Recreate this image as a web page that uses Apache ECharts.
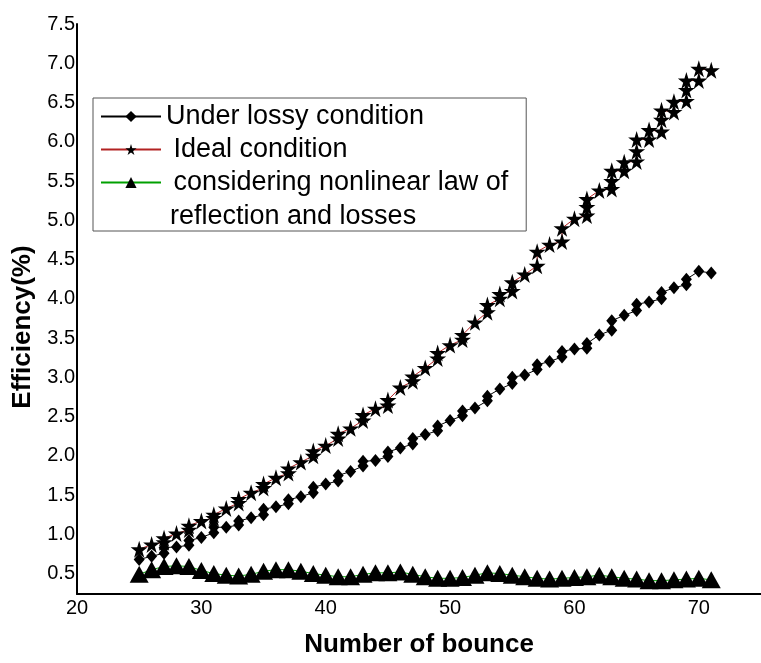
<!DOCTYPE html>
<html>
<head>
<meta charset="utf-8">
<script src="https://cdn.jsdelivr.net/npm/echarts@6/dist/echarts.min.js"></script>
<style>
  html, body { margin: 0; padding: 0; background: #fff; }
  #chart { width: 761px; height: 663px; }
</style>
</head>
<body>
<div id="chart"></div>
<script>
// odd bounces carry two (sometimes three) points
const idealBounce = [25, 26, 27, 27, 28, 29, 29, 30, 31, 31, 32, 33, 33, 34, 35, 35, 36, 37, 37, 38, 39, 39, 40, 41, 41, 42, 43, 43, 44, 45, 45, 46, 47, 47, 48, 49, 49, 50, 51, 51, 52, 53, 53, 54, 54, 55, 55, 56, 57, 57, 58, 59, 59, 60, 61, 61, 61, 62, 63, 63, 63, 64, 64, 65, 65, 65, 66, 66, 67, 67, 67, 68, 68, 69, 69, 69, 70, 70, 71]
const idealEff = [0.81, 0.87, 0.90, 0.95, 1.01, 1.06, 1.11, 1.17, 1.21, 1.25, 1.33, 1.40, 1.45, 1.53, 1.59, 1.64, 1.72, 1.78, 1.84, 1.92, 2.00, 2.06, 2.13, 2.22, 2.28, 2.35, 2.45, 2.52, 2.60, 2.64, 2.71, 2.87, 2.95, 3.01, 3.12, 3.24, 3.31, 3.41, 3.48, 3.54, 3.70, 3.83, 3.92, 4.00, 4.06, 4.10, 4.21, 4.31, 4.42, 4.60, 4.69, 4.73, 4.90, 5.02, 5.06, 5.17, 5.27, 5.38, 5.40, 5.50, 5.63, 5.63, 5.74, 5.75, 5.88, 6.03, 6.03, 6.15, 6.13, 6.28, 6.40, 6.38, 6.51, 6.52, 6.66, 6.78, 6.78, 6.93, 6.91]

const lossyBounce = [25, 26, 27, 27, 28, 29, 29, 30, 31, 31, 32, 33, 33, 34, 35, 35, 36, 37, 37, 38, 39, 39, 40, 41, 41, 42, 43, 43, 44, 45, 45, 46, 47, 47, 48, 49, 49, 50, 51, 51, 52, 53, 53, 54, 55, 55, 56, 57, 57, 58, 59, 59, 60, 61, 61, 62, 63, 63, 64, 65, 65, 66, 67, 67, 68, 69, 69, 70, 71]
const lossyEff = [0.68, 0.72, 0.76, 0.83, 0.84, 0.86, 0.92, 0.96, 1.02, 1.09, 1.09, 1.12, 1.17, 1.21, 1.25, 1.32, 1.35, 1.39, 1.44, 1.48, 1.53, 1.60, 1.64, 1.68, 1.75, 1.80, 1.87, 1.93, 1.94, 1.99, 2.05, 2.10, 2.15, 2.22, 2.27, 2.32, 2.38, 2.45, 2.51, 2.57, 2.61, 2.70, 2.76, 2.85, 2.92, 3.00, 3.03, 3.10, 3.16, 3.20, 3.26, 3.33, 3.36, 3.37, 3.43, 3.54, 3.60, 3.72, 3.79, 3.85, 3.93, 3.96, 4.00, 4.08, 4.14, 4.18, 4.25, 4.35, 4.33]

const nonlinBounce = [25, 26, 27, 28, 29, 30, 31, 32, 33, 34, 35, 36, 37, 38, 39, 40, 41, 42, 43, 44, 45, 46, 47, 48, 49, 50, 51, 52, 53, 54, 55, 56, 57, 58, 59, 60, 61, 62, 63, 64, 65, 66, 67, 68, 69, 70, 71]
const nonlinEff = [0.49, 0.55, 0.59, 0.60, 0.59, 0.54, 0.50, 0.48, 0.47, 0.49, 0.53, 0.55, 0.55, 0.53, 0.50, 0.48, 0.46, 0.46, 0.49, 0.51, 0.51, 0.52, 0.49, 0.46, 0.44, 0.44, 0.45, 0.48, 0.51, 0.50, 0.48, 0.46, 0.44, 0.43, 0.44, 0.45, 0.46, 0.48, 0.46, 0.44, 0.43, 0.41, 0.41, 0.42, 0.43, 0.44, 0.42]

const xTicks = [20, 30, 40, 50, 60, 70]
const yTicks = [0.5, 1.0, 1.5, 2.0, 2.5, 3.0, 3.5, 4.0, 4.5, 5.0, 5.5, 6.0, 6.5, 7.0, 7.5]

const seriesNames = ['Under lossy condition', ' Ideal condition', ' considering nonlinear law of']
const nameTail = 'reflection and losses'

const FONT = 'Liberation Sans, Arial, sans-serif'
const STAR = 'path://M50,0 L61,35 L98,35 L68,57 L79,91 L50,70 L21,91 L32,57 L2,35 L39,35 Z'

const zip = (xs, ys) => xs.map((x, i) => [x, ys[i]])

const chart = echarts.init(document.getElementById('chart'))

chart.setOption({
    animation: false,
    backgroundColor: '#fff',
    grid: { left: 77, right: 0, top: 24, bottom: 62 },
    xAxis: {
        type: 'value',
        min: 20,
        max: 75,
        name: 'Number of bounce',
        nameLocation: 'middle',
        nameGap: 38,
        nameTextStyle: { fontFamily: FONT, fontSize: 26, fontWeight: 'bold', color: '#000' },
        axisLine: { lineStyle: { color: '#000', width: 2 } },
        axisTick: { show: false },
        splitLine: { show: false },
        axisLabel: {
            customValues: xTicks,
            fontFamily: FONT, fontSize: 20, color: '#000', margin: 4
        }
    },
    yAxis: {
        type: 'value',
        min: 0.24,
        max: 7.5,
        name: 'Efficiency(%)',
        nameLocation: 'middle',
        nameGap: 40,
        nameTextStyle: { fontFamily: FONT, fontSize: 26, fontWeight: 'bold', color: '#000', padding: [0, 36, 0, 0] },
        axisLine: { show: true, lineStyle: { color: '#000', width: 2 } },
        axisTick: { show: false },
        splitLine: { show: false },
        axisLabel: {
            customValues: yTicks,
            formatter: v => v.toFixed(1),
            fontFamily: FONT, fontSize: 20, color: '#000', margin: 2
        }
    },
    legend: {
        orient: 'vertical',
        left: 93,
        top: 98,
        padding: [5, 18, 35, 7],
        itemWidth: 60,
        itemHeight: 14,
        itemGap: 6,
        itemTextGap: 3,
        borderColor: '#555',
        borderWidth: 1,
        selectedMode: false,
        textStyle: { fontFamily: FONT, fontSize: 27, color: '#000' },
        data: seriesNames
    },
    graphic: [{
        type: 'text',
        x: 170,
        y: 217,
        style: { text: nameTail, font: '27px ' + FONT, fill: '#000', verticalAlign: 'middle' }
    }],
    series: [
        {
            name: seriesNames[2],
            type: 'line',
            data: zip(nonlinBounce, nonlinEff),
            symbol: 'triangle',
            symbolSize: [19, 17],
            itemStyle: { color: '#000' },
            lineStyle: { color: '#00a000', width: 1 },
            emphasis: { disabled: true },
            z: 2
        },
        {
            name: seriesNames[0],
            type: 'line',
            data: zip(lossyBounce, lossyEff),
            symbol: 'diamond',
            symbolSize: [11, 13],
            itemStyle: { color: '#000' },
            lineStyle: { color: '#000', width: 1 },
            emphasis: { disabled: true },
            z: 3
        },
        {
            name: seriesNames[1],
            type: 'line',
            data: zip(idealBounce, idealEff),
            symbol: STAR,
            symbolSize: 17,
            itemStyle: { color: '#000' },
            lineStyle: { color: '#b22222', width: 1 },
            emphasis: { disabled: true },
            z: 4
        }
    ]
})
</script>
</body>
</html>
